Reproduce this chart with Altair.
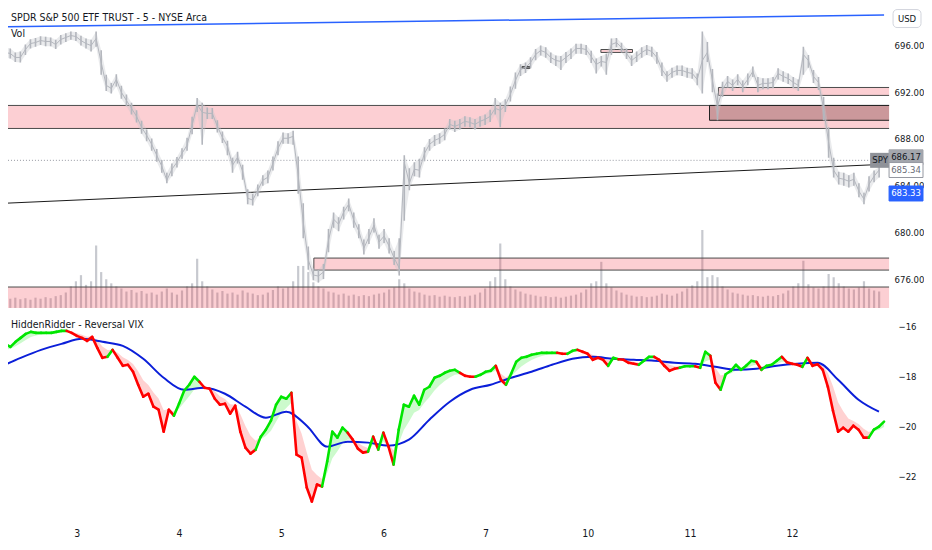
import altair as alt
import numpy as np
import pandas as pd

FONT = "DejaVu Sans Condensed, Roboto, sans-serif"
TXT = "#131722"

# ---------------- data ----------------
# time axis in session units: session "3" = 0 ... session "12" = 7, one sample every 1/20 session
session_labels = ["3", "4", "5", "6", "7", "10", "11", "12"]
sample_start = -0.75
sample_step = 0.05
ma_every = 4

title_top = "SPDR S&P 500 ETF TRUST - 5 - NYSE Arca"
title_vol = "Vol"
title_ind = "HiddenRidder - Reversal VIX"

price_close = [
    695.41, 695.32, 694.98, 694.98, 695.66, 696.17, 696.26, 696.43, 696.35, 696.35,
    696.09, 696.52, 696.69, 696.86, 696.77, 696.43, 696.17, 696.00, 696.60, 694.55,
    692.59, 692.33, 693.10, 691.99, 691.30, 690.62, 689.94, 689.00, 688.31, 687.54,
    686.60, 685.66, 684.47, 685.41, 686.00, 686.77, 687.46, 689.17, 690.96, 690.28,
    690.19, 690.19, 689.08, 688.14, 687.37, 685.75, 686.43, 685.23, 682.93, 682.76,
    683.61, 684.47, 684.72, 685.92, 687.20, 688.06, 688.06, 688.23, 684.89, 680.88,
    677.63, 676.35, 676.26, 676.60, 679.34, 681.13, 680.70, 681.73, 682.41, 681.05,
    680.11, 678.65, 679.59, 680.62, 679.17, 679.68, 678.82, 677.80, 676.94, 686.00,
    684.21, 685.41, 685.32, 686.77, 687.54, 687.88, 688.06, 688.40, 689.25, 689.08,
    689.25, 689.51, 689.42, 689.25, 689.51, 689.68, 689.94, 690.62, 690.45, 690.88,
    691.82, 693.01, 693.95, 694.12, 694.55, 695.23, 695.58, 695.41, 694.98, 694.72,
    694.64, 694.98, 695.32, 695.75, 695.75, 695.66, 695.06, 694.38, 694.64, 694.55,
    696.09, 696.26, 695.83, 695.32, 694.72, 695.06, 695.41, 695.66, 695.49, 694.98,
    693.95, 693.35, 693.70, 693.87, 693.87, 693.70, 693.61, 693.10, 694.72, 695.41,
    693.01, 690.79, 692.24, 692.93, 692.59, 693.10, 692.50, 693.10, 693.78, 692.59,
    692.76, 692.76, 692.84, 693.61, 693.35, 693.18, 692.84, 692.59, 695.23, 694.72,
    693.35, 692.84, 690.62, 687.71, 685.32, 684.64, 684.55, 684.38, 684.55, 683.53,
    682.84, 684.12, 684.81, 685.34,
]
price_high = [
    695.85, 695.75, 695.40, 695.50, 696.10, 696.55, 696.65, 696.80, 696.75, 696.70,
    696.50, 696.90, 697.05, 697.20, 697.15, 696.85, 696.60, 696.50, 697.20, 695.60,
    693.50, 692.80, 693.55, 692.55, 691.80, 691.10, 690.45, 689.55, 688.80, 688.05,
    687.15, 686.20, 685.10, 685.90, 686.45, 687.20, 688.10, 689.90, 691.50, 691.10,
    690.70, 690.65, 689.60, 688.65, 687.85, 686.40, 686.90, 685.80, 683.70, 683.30,
    684.10, 684.90, 685.30, 686.50, 687.80, 688.55, 688.50, 688.70, 686.50, 682.50,
    678.80, 676.90, 676.80, 677.30, 680.30, 681.70, 681.30, 682.20, 682.90, 681.70,
    680.70, 679.40, 680.30, 681.20, 679.80, 680.30, 679.50, 678.40, 679.50, 686.60,
    685.50, 686.00, 686.30, 687.30, 688.00, 688.35, 688.50, 688.90, 689.70, 689.55,
    689.70, 689.95, 689.85, 689.70, 689.95, 690.10, 690.50, 691.50, 691.10, 691.40,
    692.50, 693.70, 694.40, 694.55, 695.00, 695.70, 696.00, 695.85, 695.40, 695.15,
    695.10, 695.45, 695.75, 696.15, 696.15, 696.05, 695.55, 694.90, 695.10, 695.30,
    696.60, 696.65, 696.25, 695.75, 695.15, 695.50, 695.85, 696.05, 695.90, 695.45,
    694.55, 693.80, 694.10, 694.30, 694.30, 694.10, 694.05, 693.60, 697.20, 696.30,
    694.00, 691.90, 692.90, 693.40, 693.10, 693.55, 693.00, 693.60, 694.20, 693.30,
    693.20, 693.20, 693.30, 694.05, 693.80, 693.60, 693.30, 693.10, 695.90, 695.20,
    693.90, 693.30, 691.60, 689.00, 686.40, 685.20, 685.10, 684.90, 685.10, 684.20,
    683.40, 684.80, 685.30, 685.60,
]
price_low = [
    695.00, 694.90, 694.60, 694.55, 695.20, 695.75, 695.90, 696.05, 695.95, 695.95,
    695.70, 696.10, 696.30, 696.50, 696.40, 696.00, 695.75, 695.50, 695.90, 693.50,
    692.10, 691.90, 692.50, 691.45, 690.80, 690.10, 689.40, 688.45, 687.80, 687.00,
    686.05, 685.10, 684.20, 684.80, 685.55, 686.30, 687.00, 688.40, 690.30, 687.50,
    689.70, 689.70, 688.55, 687.65, 686.60, 685.10, 685.90, 684.50, 682.40, 682.30,
    683.10, 684.00, 684.20, 685.30, 686.60, 687.60, 687.60, 687.50, 683.30, 679.50,
    676.80, 675.90, 675.70, 676.00, 678.30, 680.40, 680.10, 681.10, 681.80, 680.40,
    679.50, 678.10, 679.00, 680.00, 678.60, 679.10, 678.20, 677.20, 676.30, 681.00,
    683.60, 684.80, 684.70, 686.10, 687.00, 687.40, 687.60, 687.90, 688.80, 688.60,
    688.80, 689.05, 689.00, 688.80, 689.05, 689.20, 689.45, 690.10, 689.00, 690.30,
    691.20, 692.30, 693.40, 693.65, 694.05, 694.75, 695.15, 694.95, 694.50, 694.25,
    693.90, 694.50, 694.85, 695.30, 695.30, 695.20, 694.50, 693.60, 694.20, 693.50,
    695.20, 695.85, 695.40, 694.85, 694.25, 694.60, 694.95, 695.20, 695.05, 694.45,
    693.40, 692.90, 693.25, 693.45, 693.40, 693.25, 693.15, 692.60, 691.90, 694.60,
    692.00, 689.60, 691.60, 692.40, 692.10, 692.60, 692.00, 692.60, 693.30, 692.00,
    692.25, 692.25, 692.35, 693.10, 692.90, 692.70, 692.35, 692.10, 693.50, 694.10,
    692.80, 692.20, 689.60, 686.40, 684.70, 684.10, 684.00, 683.85, 684.00, 683.00,
    682.40, 683.50, 684.30, 684.70,
]
volume_k = [
    220, 180, 200, 170, 190, 160, 200, 180, 210, 190,
    230, 250, 300, 420, 520, 640, 450, 520, 1220, 700,
    560, 480, 420, 380, 320, 350, 300, 330, 280, 300,
    260, 320, 380, 300, 260, 340, 420, 480, 960, 520,
    420, 360, 300, 330, 280, 300, 260, 340, 300, 280,
    250, 260, 300, 350, 420, 380, 400, 520, 820, 820,
    700, 500, 420, 380, 320, 300, 260, 280, 240, 260,
    230, 250, 230, 260, 280, 300, 360, 400, 560, 480,
    380, 320, 300, 260, 240, 250, 220, 240, 220, 210,
    230, 220, 240, 260, 300, 380, 520, 600, 1260, 560,
    420, 360, 320, 280, 260, 240, 220, 230, 210, 220,
    200, 220, 240, 260, 300, 360, 480, 520, 900, 480,
    400, 340, 300, 260, 240, 220, 230, 210, 220, 240,
    280, 260, 240, 280, 320, 380, 440, 520, 1520, 600,
    640, 600, 420, 360, 300, 280, 260, 240, 250, 230,
    220, 240, 230, 250, 280, 340, 420, 480, 920, 460,
    400, 380, 420, 660, 600, 480, 420, 380, 360, 400,
    520, 380, 340, 320,
]
rvix = [
    -16.80, -16.68, -16.80, -16.60, -16.44, -16.28, -16.20, -16.24, -16.24, -16.24,
    -16.24, -16.20, -16.16, -16.16, -16.24, -16.36, -16.44, -16.56, -16.40, -16.84,
    -17.24, -17.20, -16.92, -17.24, -17.56, -17.52, -17.80, -18.32, -18.80, -18.68,
    -19.20, -19.32, -20.20, -19.32, -19.56, -19.08, -18.56, -18.32, -18.00, -18.20,
    -18.44, -18.48, -18.88, -19.12, -19.08, -19.48, -19.16, -20.20, -20.84, -21.08,
    -20.92, -20.40, -20.12, -19.76, -19.12, -18.80, -18.88, -18.64, -21.12, -21.24,
    -22.44, -23.00, -22.32, -22.40, -21.40, -20.20, -20.44, -20.04, -20.24, -20.52,
    -20.88, -21.04, -21.00, -20.40, -20.92, -20.24, -20.80, -21.52, -20.12, -19.12,
    -19.20, -18.76, -19.12, -18.52, -18.40, -18.04, -17.96, -17.84, -17.76, -17.72,
    -17.84, -17.96, -18.00, -18.00, -17.92, -17.80, -17.76, -17.56, -18.12, -18.32,
    -17.88, -17.40, -17.24, -17.20, -17.12, -17.08, -17.04, -17.04, -17.04, -17.04,
    -17.08, -17.08, -16.96, -16.92, -17.00, -17.08, -17.32, -17.24, -17.32, -17.56,
    -17.24, -17.30, -17.32, -17.44, -17.48, -17.52, -17.36, -17.20, -17.20, -17.32,
    -17.56, -17.76, -17.68, -17.64, -17.58, -17.58, -17.58, -17.64, -17.00, -17.16,
    -18.24, -18.52, -17.90, -17.76, -17.52, -17.72, -17.56, -17.36, -17.40, -17.72,
    -17.56, -17.52, -17.36, -17.20, -17.42, -17.48, -17.52, -17.60, -17.24, -17.56,
    -17.50, -17.72, -18.40, -19.36, -20.20, -20.04, -20.20, -19.96, -20.12, -20.44,
    -20.44, -20.12, -20.00, -19.80,
]
rvix_signal = [
    -17.05, -16.92, -16.88, -16.78, -16.66, -16.53, -16.41, -16.35, -16.31, -16.29,
    -16.27, -16.25, -16.22, -16.20, -16.21, -16.26, -16.32, -16.40, -16.38, -16.54,
    -16.79, -16.93, -16.93, -17.04, -17.22, -17.33, -17.49, -17.78, -18.14, -18.33,
    -18.63, -18.87, -19.34, -19.30, -19.39, -19.28, -19.03, -18.78, -18.51, -18.40,
    -18.41, -18.43, -18.59, -18.78, -18.89, -19.10, -19.12, -19.50, -19.97, -20.36,
    -20.56, -20.50, -20.37, -20.16, -19.80, -19.45, -19.25, -19.04, -19.77, -20.28,
    -21.04, -21.73, -21.94, -22.10, -21.86, -21.28, -20.99, -20.66, -20.51, -20.51,
    -20.64, -20.78, -20.86, -20.70, -20.78, -20.59, -20.66, -20.96, -20.67, -20.13,
    -19.80, -19.44, -19.33, -19.05, -18.82, -18.55, -18.34, -18.17, -18.03, -17.92,
    -17.89, -17.91, -17.94, -17.96, -17.95, -17.90, -17.85, -17.75, -17.88, -18.03,
    -17.98, -17.78, -17.59, -17.45, -17.33, -17.24, -17.17, -17.12, -17.09, -17.07,
    -17.07, -17.07, -17.03, -16.99, -16.99, -17.02, -17.13, -17.17, -17.22, -17.34,
    -17.30, -17.31, -17.31, -17.36, -17.40, -17.44, -17.41, -17.34, -17.29, -17.30,
    -17.39, -17.52, -17.58, -17.60, -17.60, -17.60, -17.59, -17.60, -17.39, -17.31,
    -17.64, -17.95, -17.93, -17.87, -17.75, -17.74, -17.68, -17.57, -17.51, -17.58,
    -17.59, -17.57, -17.50, -17.40, -17.40, -17.43, -17.46, -17.51, -17.42, -17.47,
    -17.48, -17.56, -17.85, -18.38, -19.02, -19.38, -19.67, -19.77, -19.89, -20.08,
    -20.21, -20.18, -20.12, -20.01,
]
rvix_ma = [
    -17.60, -17.24, -16.92, -16.68, -16.48, -16.60, -16.76, -17.28, -18.04, -18.52,
    -18.44, -18.68, -19.20, -19.64, -19.40, -19.96, -20.80, -20.60, -20.64, -20.76,
    -20.52, -19.72, -19.00, -18.52, -18.32, -18.04, -17.80, -17.52, -17.28, -17.20,
    -17.28, -17.32, -17.36, -17.44, -17.48, -17.60, -17.72, -17.68, -17.56, -17.48,
    -17.44, -18.12, -18.92, -19.40,
]

# drawn objects on the price pane (session index, price)
zone_kind = ["pink", "dark", "pink", "pink", "black", "pink", "pink"]
zone_start = [-1.0, 6.221, 6.309, 5.146, 4.365, 2.305, -1.0]
zone_end = [9.0, 9.0, 9.0, 5.459, 4.443, 9.0, 9.0]
zone_low = [688.90, 689.60, 691.73, 695.41, 694.04, 676.77, 672.00]
zone_high = [690.87, 690.87, 692.41, 695.66, 694.21, 677.80, 675.32]

trend_name = ["blue", "blue", "black", "black"]
trend_t = [-0.742, 7.949, -0.742, 7.949]
trend_price = [697.60, 698.61, 682.50, 685.83]

prev_close = 686.17
last_close = 685.34
blue_tag = 683.33

price_ticks = [676, 680, 684, 688, 692, 696]
ind_ticks = [-16, -18, -20, -22]

n = len(price_close)
for arr in (price_high, price_low, volume_k, rvix, rvix_signal):
    assert len(arr) == n, len(arr)

# ---------------- tables ----------------
t = [sample_start + sample_step * i for i in range(n)]
pdf = pd.DataFrame({"t": t, "close": price_close, "high": price_high,
                    "low": price_low, "vol": volume_k})
ind = pd.DataFrame({"t": t, "v": rvix, "s": rvix_signal})
ind["g_lo"] = np.where(ind.v > ind.s, ind.s, ind.v)
ind["r_hi"] = np.where(ind.v < ind.s, ind.s, ind.v)
seg = pd.DataFrame({
    "t": t[:-1], "v": rvix[:-1], "t2": t[1:], "v2": rvix[1:],
    "state": ["up" if a > b else "down" for a, b in zip(rvix[1:], rvix_signal[1:])],
})
ma_df = pd.DataFrame({"t": [sample_start + sample_step * ma_every * k for k in range(len(rvix_ma))],
                      "ma": rvix_ma})
zdf = pd.DataFrame({"kind": zone_kind, "start": zone_start, "end": zone_end,
                    "lo": zone_low, "hi": zone_high})
tdf = pd.DataFrame({"name": trend_name, "t": trend_t, "p": trend_price})

# ---------------- scales / axes ----------------
xs = alt.Scale(domain=[-0.742, 7.949], nice=False, zero=False)
ps = alt.Scale(domain=[673.53, 699.85], nice=False, zero=False)
vs = alt.Scale(domain=[-23.32, -15.40], nice=False, zero=False)

AX_FS = 9.5
price_axis = alt.Axis(orient="right", values=price_ticks, format=".2f", grid=False,
                      ticks=False, domain=False, labelPadding=5, labelFontSize=AX_FS,
                      title=None)
ind_axis = alt.Axis(orient="right", values=ind_ticks, format="d", grid=False,
                    ticks=False, domain=False, labelPadding=9, labelFontSize=AX_FS,
                    title=None)
lab_js = "[" + ",".join("'%s'" % s for s in session_labels) + "]"
x_axis = alt.Axis(values=list(range(len(session_labels))), labelExpr=lab_js + "[datum.value]",
                  grid=False, ticks=False, domain=False, labelPadding=19, labelFontSize=10.5,
                  title=None)


def XT(f="t"):
    return alt.X(f"{f}:Q", scale=xs, axis=None, title=None)


def YP(f):
    return alt.Y(f"{f}:Q", scale=ps, axis=price_axis, title=None)


def XB(f="t"):
    return alt.X(f"{f}:Q", scale=xs, axis=x_axis, title=None)


def YV(f):
    return alt.Y(f"{f}:Q", scale=vs, axis=ind_axis, title=None)


# ---------------- price pane ----------------
vol_layer = alt.Chart(pdf).mark_bar(size=2.2, color="#b4b7bf", opacity=0.75, clip=True).encode(
    x=XT(), y=alt.Y("vol:Q", scale=alt.Scale(domain=[0, 6000], nice=False), axis=None))


def zone_layer(kind, fill, op, stroke):
    return alt.Chart(zdf).transform_filter(alt.datum.kind == kind).mark_rect(
        clip=True, fill=fill, fillOpacity=op, stroke=stroke, strokeWidth=1
    ).encode(x=XT("start"), x2=alt.X2("end"), y=YP("lo"), y2=alt.Y2("hi"))


z_pink = zone_layer("pink", "#f23645", 0.24, "#4a4a4a")
z_dark = zone_layer("dark", "#5a1c1c", 0.30, "#222222")
z_black = zone_layer("black", "#444444", 0.85, "#111111")

dotted = alt.Chart(pd.DataFrame({"p": [prev_close]})).mark_rule(
    color="#9598a1", strokeDash=[1, 2], strokeWidth=1).encode(y=YP("p"))

blue_tl = alt.Chart(tdf).transform_filter(alt.datum.name == "blue").mark_line(
    clip=True, color="#2962ff", strokeWidth=1.5).encode(x=XT(), y=YP("p"))
black_tl = alt.Chart(tdf).transform_filter(alt.datum.name == "black").mark_line(
    clip=True, color="#1a1a1a", strokeWidth=1).encode(x=XT(), y=YP("p"))

band = alt.Chart(pdf).mark_area(clip=True, color="#c3c6cc", opacity=0.35).encode(
    x=XT(), y=YP("low"), y2=alt.Y2("high"))
candles = alt.Chart(pdf).mark_rule(clip=True, color="#b3b6bd", strokeWidth=1.6).encode(
    x=XT(), y=YP("low"), y2=alt.Y2("high"))
close_line = alt.Chart(pdf).mark_line(clip=True, color="#b4b7be", strokeWidth=1).encode(
    x=XT(), y=YP("close"))


def text_at(s, x, y, size=10.5, color=TXT, align="left"):
    return alt.Chart(pd.DataFrame({"s": [s]})).mark_text(
        align=align, baseline="middle", font=FONT, fontSize=size, color=color
    ).encode(x=alt.value(x), y=alt.value(y), text="s:N")


t_title = text_at(title_top, 10, 17)
t_vol = text_at(title_vol, 10, 33)


def price_tag(label, pos, fill, stroke, tcolor, cx=907, w=34, h=15):
    d = pd.DataFrame({"s": [label], "p": [pos]})
    box = alt.Chart(d).mark_tick(orient="horizontal", size=w, thickness=h, fill=fill,
                                 color=fill, stroke=stroke, strokeWidth=1, opacity=1).encode(
        x=alt.value(cx), y=YP("p"))
    txt = alt.Chart(d).mark_text(font=FONT, fontSize=AX_FS, color=tcolor, align="center",
                                 baseline="middle").encode(x=alt.value(cx), y=YP("p"), text="s:N")
    return box + txt


tag_prev = price_tag(f"{prev_close:.2f}", 686.43, "#a3a6ad", "#a3a6ad", TXT)
tag_last = price_tag(f"{last_close:.2f}", last_close, "#ffffff", "#9598a1", "#6a6d78")
tag_blue = price_tag(f"{blue_tag:.2f}", blue_tag, "#2962ff", "#2962ff", "#ffffff")
spy_d = pd.DataFrame({"s": ["SPY"], "p": [prev_close]})
spy_box = alt.Chart(spy_d).mark_tick(orient="horizontal", size=20, thickness=15,
                                     color="#8f9299", opacity=1).encode(
    x=alt.value(881), y=YP("p"))
spy_txt = alt.Chart(spy_d).mark_text(font=FONT, fontSize=9.5, color=TXT).encode(
    x=alt.value(881), y=YP("p"), text="s:N")

usd_d = pd.DataFrame({"s": ["USD"]})
usd_box = alt.Chart(usd_d).mark_rect(fill="#ffffff", stroke="#d1d4dc", strokeWidth=1,
                                     cornerRadius=4).encode(
    x=alt.value(894), x2=alt.value(922), y=alt.value(9), y2=alt.value(27))
usd_txt = text_at("USD", 908, 18, size=9.5, align="center")

price_layers = alt.layer(
    z_pink, z_dark, z_black, dotted, blue_tl, black_tl, band, candles, close_line,
    t_title, t_vol, spy_box, spy_txt, tag_prev, tag_last, tag_blue, usd_box, usd_txt,
)
top = alt.layer(vol_layer, price_layers).resolve_scale(y="independent").properties(
    width=890, height=308)

# ---------------- indicator pane ----------------
green_fill = alt.Chart(ind).mark_area(clip=True, color="#00e600", opacity=0.2).encode(
    x=XB(), y=YV("v"), y2=alt.Y2("g_lo"))
red_fill = alt.Chart(ind).mark_area(clip=True, color="#ff1a1a", opacity=0.2).encode(
    x=XB(), y=YV("v"), y2=alt.Y2("r_hi"))
ma_line = alt.Chart(ma_df).mark_line(clip=True, color="#0b1fd9", strokeWidth=2,
                                     interpolate="monotone").encode(x=XB(), y=YV("ma"))
segs = alt.Chart(seg).mark_rule(clip=True, strokeWidth=2.6, strokeCap="round").encode(
    x=XB(), y=YV("v"), x2=alt.X2("t2"), y2=alt.Y2("v2"),
    color=alt.Color("state:N", scale=alt.Scale(domain=["up", "down"],
                                               range=["#00e600", "#ff0000"]), legend=None))
t_ind = text_at(title_ind, 10, 13)

lower = alt.layer(green_fill, red_fill, ma_line, segs, t_ind).properties(
    width=890, height=198)

chart = alt.vconcat(top, lower, spacing=4, bounds="flush").properties(
    padding={"left": -8, "top": -8, "right": 0, "bottom": 0}
).configure(background="#ffffff").configure_view(stroke=None).configure_axis(
    labelFont=FONT, labelColor=TXT)

chart.save("out.html", embed_options={"renderer": "svg", "actions": False})
